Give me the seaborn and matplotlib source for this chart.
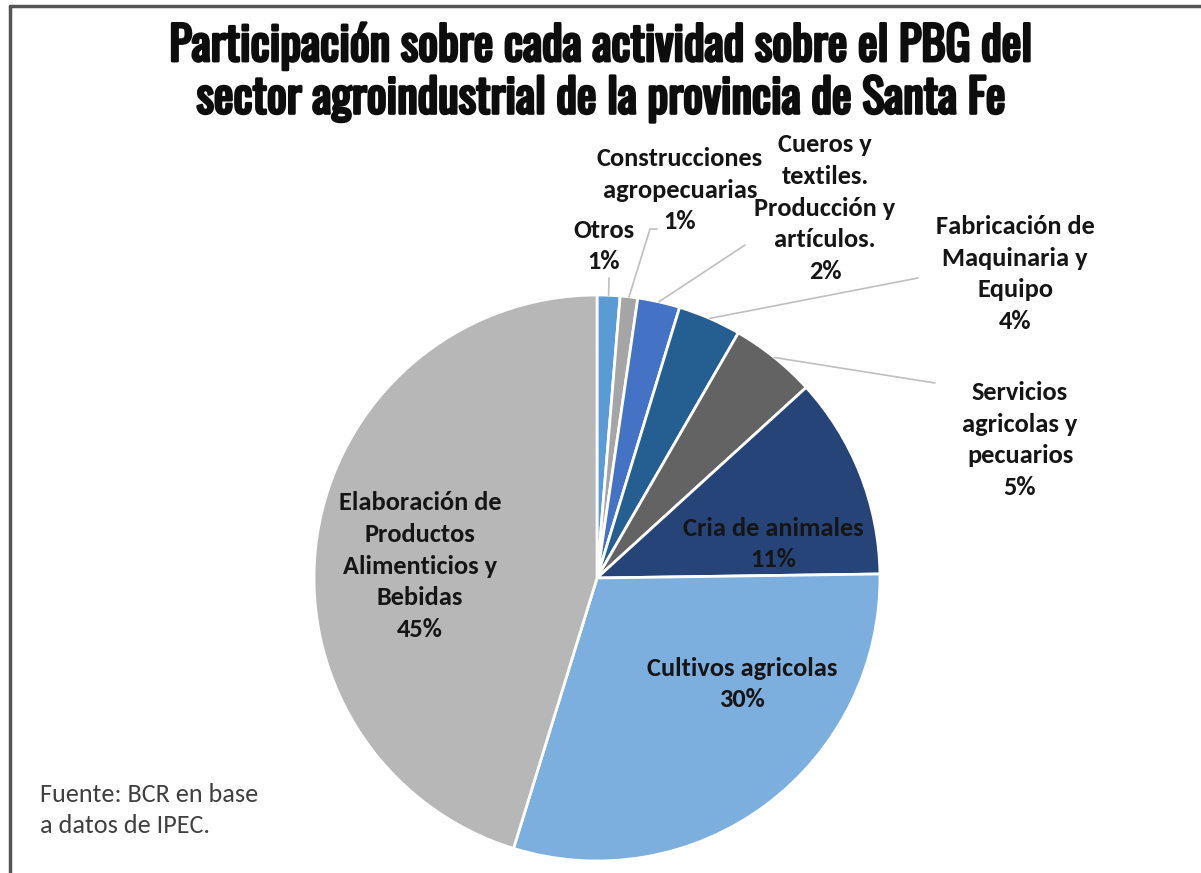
import numpy as np
import matplotlib
matplotlib.use("Agg")
import matplotlib.pyplot as plt
import matplotlib.patheffects as pe
import seaborn as sns
from matplotlib.lines import Line2D

# ---- data ----
categories = [
    "Otros",
    "Construcciones\nagropecuarias",
    "Cueros y\ntextiles.\nProducción y\nartículos.",
    "Fabricación de\nMaquinaria y\nEquipo",
    "Servicios\nagricolas y\npecuarios",
    "Cria de animales",
    "Cultivos agricolas",
    "Elaboración de\nProductos\nAlimenticios y\nBebidas",
]
shares = [1.3, 1.0, 2.4, 3.6, 4.9, 11.5, 29.9, 45.1]
pct_labels = ["1%", "1%", "2%", "4%", "5%", "11%", "30%", "45%"]
colors = ["#5B9BD5", "#A5A5A5", "#4472C4", "#255E91",
          "#636363", "#264478", "#7CAFDD", "#B7B7B7"]

title = "Participación sobre cada actividad sobre el PBG del\nsector agroindustrial de la provincia de Santa Fe"
source = "Fuente: BCR en base\na datos de IPEC."

# ---- layout (pixels in the 1201x873 canvas) ----
W, H = 1201, 873
CX, CY, R = 597, 578, 283
label_px = [(604, 246), (680, 190), (825, 208), (1015, 274),
            (1020, 440), (773, 544), (742, 684), (420, 566)]
leader_end_px = [[(609, 278)], [(650, 229), (657, 229)], [(745, 245)],
                 [(918, 278)], [(935, 383)], None, None, None]


def px2d(p):
    return ((p[0] - CX) / R, (CY - p[1]) / R)


sns.set_theme(style="white")
plt.rcParams['font.family'] = ['Carlito', 'Lato', 'DejaVu Sans']

fig = plt.figure(figsize=(W / 100, H / 100), dpi=100)
fig.patch.set_facecolor("white")
ax = fig.add_axes([(CX - R) / W, (H - CY - R) / H, 2 * R / W, 2 * R / H])

wedges, _ = ax.pie(shares, colors=colors, startangle=90, counterclock=False,
                   radius=1.0, wedgeprops=dict(edgecolor="white", linewidth=2))
ax.set_xlim(-1, 1)
ax.set_ylim(-1, 1)
ax.set_aspect("equal")
ax.axis("off")

for i, (cat, pct) in enumerate(zip(categories, pct_labels)):
    lx, ly = px2d(label_px[i])
    ax.text(lx, ly, f"{cat}\n{pct}", ha="center", va="center",
            fontsize=19, fontweight="bold", color="#151515",
            linespacing=1.46, clip_on=False)
    ends = leader_end_px[i]
    if ends:
        w = wedges[i]
        mid = np.deg2rad((w.theta1 + w.theta2) / 2)
        xs = [np.cos(mid)] + [px2d(p)[0] for p in ends]
        ys = [np.sin(mid)] + [px2d(p)[1] for p in ends]
        ax.plot(xs, ys, color="#BFBFBF", lw=1.2, clip_on=False)

fig.text(0.5, 1 - 72 / H, title, ha="center", va="center",
         fontsize=33.5, family=["Oswald", "DejaVu Sans"], fontweight="bold",
         linespacing=1.2, color="#0d0d0d",
         path_effects=[pe.withStroke(linewidth=2.0, foreground="#0d0d0d")])

fig.text(40 / W, 1 - 810 / H, source, ha="left", va="center",
         fontsize=18.8, fontweight="normal", color="#404040", linespacing=1.4)

# frame lines (top and left)
fig.add_artist(Line2D([10 / W, 1.0], [1 - 6 / H, 1 - 6 / H], color="#555555", lw=2.5,
                      transform=fig.transFigure))
fig.add_artist(Line2D([10 / W, 10 / W], [0, 1 - 6 / H], color="#555555", lw=2.5,
                      transform=fig.transFigure))

fig.savefig("out.png", dpi=100, facecolor="white")
